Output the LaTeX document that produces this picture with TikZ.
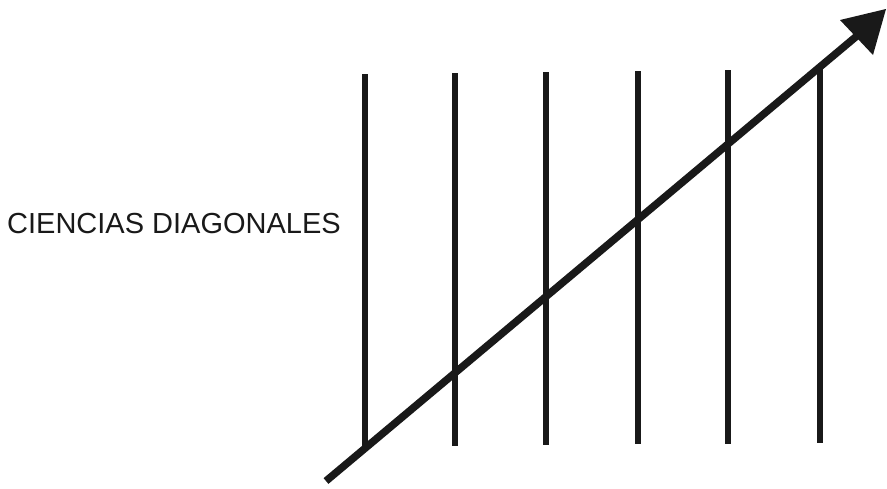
\documentclass[tikz,border=0pt]{standalone}
\usepackage{fontspec}
\setmainfont{Liberation Sans}
\begin{document}
\begin{tikzpicture}[x=1pt,y=-1pt,
  vline/.style={line width=6.5pt, black!90},
  shaft/.style={line width=7.5pt, black!90},
  headshape/.style={fill=black!90, draw=none},
  lbl/.style={font=\fontsize{29}{34}\selectfont, text=black!90, inner sep=0pt, anchor=base west}]
\useasboundingbox (0,0) rectangle (887,488);
% text
\node[lbl] (title) at (7,233) {CIENCIAS DIAGONALES};
% vertical lines
\coordinate (t1) at (365,74);  \coordinate (b1) at (365,447);
\coordinate (t2) at (455,73);  \coordinate (b2) at (455,446);
\coordinate (t3) at (546,72);  \coordinate (b3) at (546,445);
\coordinate (t4) at (638,71);  \coordinate (b4) at (638,444);
\coordinate (t5) at (728,70);  \coordinate (b5) at (728,444);
\coordinate (t6) at (820,66);  \coordinate (b6) at (820,443);
\foreach \i in {1,...,6} \draw[vline] (t\i) -- (b\i);
% arrow
\coordinate (tail) at (326,481);
\coordinate (base) at (858,35);
\coordinate (tip) at (886,9);
\coordinate (c1) at (840,20);
\coordinate (c2) at (873,55);
\draw[shaft] (tail) -- (base);
\fill[headshape] (tip) -- (c1) -- (c2) -- cycle;
\end{tikzpicture}
\end{document}
